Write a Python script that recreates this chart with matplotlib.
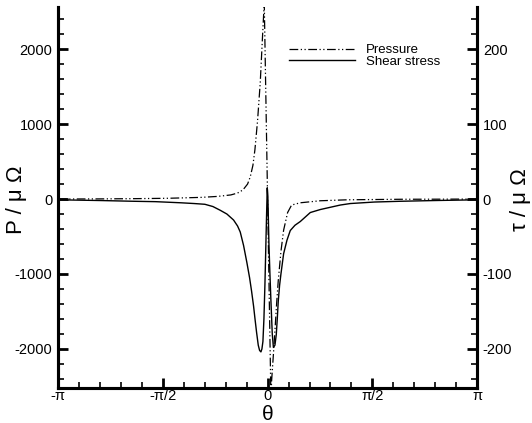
import matplotlib
matplotlib.use("Agg")
import matplotlib.pyplot as plt
import numpy as np
from matplotlib.ticker import MultipleLocator

plt.rcParams['font.family'] = ['Liberation Sans', 'DejaVu Sans']
plt.rcParams['axes.unicode_minus'] = False

# pressure curve (left axis)
theta_p = [-3.1416, -2.5, -2.0, -1.5, -1.0, -0.75, -0.55, -0.45, -0.37, -0.30,
           -0.26, -0.22, -0.19, -0.15, -0.11, -0.08, -0.06, -0.05, 0.0, 0.05,
           0.06, 0.085, 0.11, 0.135, 0.16, 0.20, 0.24, 0.30, 0.36, 0.49,
           0.79, 1.2, 2.0, 2.5, 3.1416]
pressure = [0, 2, 5, 10, 22, 35, 55, 80, 121, 200,
            295, 450, 658, 1050, 1557, 2100, 2450, 2620, 0, -2650,
            -2430, -2100, -1758, -1400, -1087, -700, -416, -180, -80, -50,
            -23, -10, -3, -2, 0]

# shear stress curve (right axis)
theta_s = [-3.1416, -2.5, -2.0, -1.68, -1.3, -1.1, -0.94, -0.82, -0.71, -0.61,
           -0.51, -0.45, -0.41, -0.36, -0.31, -0.27, -0.24, -0.21, -0.19, -0.165,
           -0.14, -0.12, -0.10, -0.085, -0.07, -0.055, -0.04, -0.015, -0.005,
           0.005, 0.02, 0.035, 0.05, 0.07, 0.087, 0.11, 0.13, 0.145, 0.16,
           0.18, 0.20, 0.24, 0.29, 0.34, 0.41, 0.49, 0.64, 0.79, 1.09,
           1.24, 1.6, 1.98, 2.5, 3.1416]
shear = [-1, -2, -3, -3.5, -5, -6, -7, -10, -15, -20,
         -28, -36, -44, -62, -85, -105, -123, -143, -159, -178,
         -195, -202, -204, -200, -190, -160, -114, -20, 15,
         0, -60, -100, -136, -180, -198, -195, -181, -160, -136,
         -115, -100, -73, -55, -42, -35, -30, -18, -14, -8,
         -6, -4, -3, -2, -1]

xticks = [-np.pi, -np.pi / 2, 0, np.pi / 2, np.pi]
xticklabels = ["-π", "-π/2", "0", "π/2", "π"]

fig = plt.figure(figsize=(5.32, 4.23), dpi=100)
ax = fig.add_axes([0.109, 0.083, 0.788, 0.900])
ax2 = ax.twinx()

lp, = ax.plot(theta_p, pressure, color="black", lw=0.9,
              linestyle=(0, (7, 2, 1, 2, 1, 2)), label="Pressure")
ls, = ax2.plot(theta_s, shear, color="black", lw=1.0, label="Shear stress")

ax.set_xlim(-np.pi, np.pi)
ax.set_ylim(-2520, 2560)
ax2.set_ylim(-252, 256)

ax.set_xticks(xticks)
ax.set_xticklabels(xticklabels, fontsize=11)
ax.xaxis.set_minor_locator(MultipleLocator(np.pi / 10))
ax.set_yticks([-2000, -1000, 0, 1000, 2000])
ax.yaxis.set_minor_locator(MultipleLocator(200))
ax2.set_yticks([-200, -100, 0, 100, 200])
ax2.yaxis.set_minor_locator(MultipleLocator(20))

for a in (ax, ax2):
    a.spines["top"].set_visible(False)
    for s in ("left", "right", "bottom"):
        a.spines[s].set_linewidth(2.2)
    a.tick_params(which="major", direction="in", length=7, width=2, labelsize=10.5, pad=4)
    a.tick_params(which="minor", direction="in", length=4, width=1.2)
ax.tick_params(axis="x", pad=1)
ax2.tick_params(axis="y", right=True, left=False)

ax.set_xlabel("θ", fontsize=15, labelpad=1)
ax.set_ylabel("P / μ Ω", fontsize=16)
ax.yaxis.set_label_coords(-0.074, 0.495)
ax2.set_ylabel("τ / μ Ω", fontsize=16, rotation=90)
ax2.yaxis.set_label_coords(1.079, 0.495)

ax.legend([lp, ls], ["Pressure", "Shear stress"], loc="upper left",
          bbox_to_anchor=(0.523, 0.934), frameon=False, fontsize=9.5,
          handlelength=5.0, handletextpad=0.8, labelspacing=-0.08)

fig.savefig("out.png", dpi=100)
